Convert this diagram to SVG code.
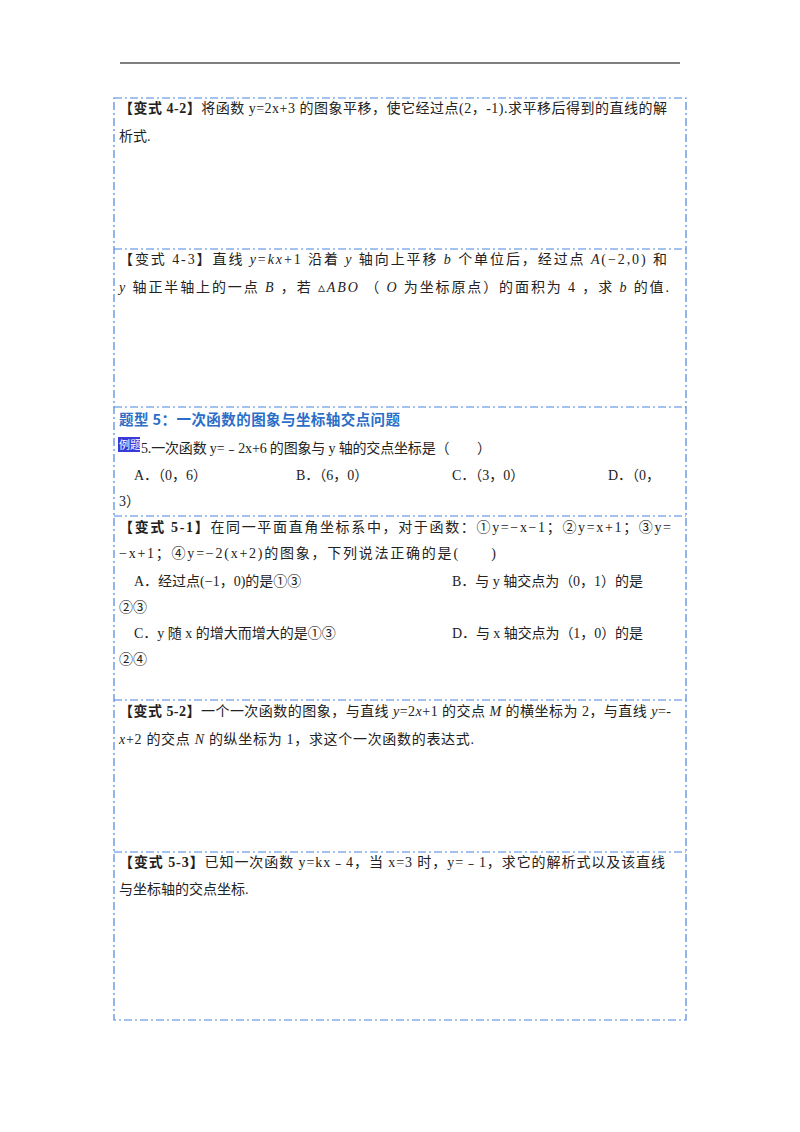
<svg xmlns="http://www.w3.org/2000/svg" width="800" height="1132" viewBox="0 0 800 1132">
<style>
.b{fill:none;stroke:#4a86e0;stroke-width:1.2;stroke-dasharray:8,3,2,3}
text{font-family:"Liberation Serif","Noto Sans CJK SC",serif;font-size:14px;fill:#222}
.h{font-weight:bold}
.i{font-style:italic}
.t{font-family:"Noto Sans CJK SC",sans-serif;font-weight:bold;fill:#2a6ec8;font-size:14.5px}
</style>
<rect width="800" height="1132" fill="#fff"/>
<line x1="120" y1="63" x2="680" y2="63" stroke="#000" stroke-width="1.2"/>
<g id="frame">
<rect class="b" x="114" y="98" width="572" height="922"/>
<line class="b" x1="114" y1="249" x2="686" y2="249"/>
<line class="b" x1="114" y1="407" x2="686" y2="407"/>
<line class="b" x1="114" y1="516" x2="686" y2="516"/>
<line class="b" x1="114" y1="700" x2="686" y2="700"/>
<line class="b" x1="114" y1="852" x2="686" y2="852"/>
</g>
<g id="q42">
<text x="119" y="113" textLength="548" lengthAdjust="spacing"><tspan class="h">【变式 4-2】</tspan>将函数 y=2x+3 的图象平移，使它经过点(2，-1).求平移后得到的直线的解</text>
<text x="119" y="141">析式.</text>
</g>
<g id="q43">
<text x="119" y="264" textLength="548" lengthAdjust="spacing">【变式 4-3】直线  <tspan class="i">y</tspan>=<tspan class="i">kx</tspan>+1  沿着  <tspan class="i">y</tspan>  轴向上平移  <tspan class="i">b</tspan>  个单位后，经过点  <tspan class="i">A</tspan>(−2,0)  和</text>
<text x="119" y="292" textLength="550" lengthAdjust="spacing"><tspan class="i">y</tspan>  轴正半轴上的一点  <tspan class="i">B</tspan> ，若  ▵<tspan class="i">ABO</tspan>  （ <tspan class="i">O</tspan>  为坐标原点）的面积为  4 ，求  <tspan class="i">b</tspan>  的值.</text>
</g>
<g id="q5">
<text class="t" x="119" y="425" textLength="281" lengthAdjust="spacing">题型 5：一次函数的图象与坐标轴交点问题</text>
<rect x="118" y="437" width="22" height="15" fill="#3a3ad8"/>
<text x="119" y="449" style="font-size:11px;fill:#fff;font-family:'Noto Sans CJK SC',sans-serif">例题</text>
<text x="141" y="453" textLength="350" lengthAdjust="spacing">5.一次函数 y=﹣2x+6 的图象与 y 轴的交点坐标是（　　）</text>
<text x="134" y="480">A．（0，6）</text>
<text x="296" y="480">B．（6，0）</text>
<text x="452" y="480">C．（3，0）</text>
<text x="608" y="480">D．（0，</text>
<text x="119" y="506">3）</text>
</g>
<g id="q51">
<text x="119" y="532" textLength="552" lengthAdjust="spacing"><tspan class="h">【变式 5-1】</tspan>在同一平面直角坐标系中，对于函数：①y=−x−1；②y=x+1；③y=</text>
<text x="119" y="558" textLength="377" lengthAdjust="spacing">−x+1；④y=−2(x+2)的图象，下列说法正确的是(　　)</text>
<text x="134" y="586">A．经过点(−1，0)的是①③</text>
<text x="452" y="586" textLength="191" lengthAdjust="spacing">B．与 y 轴交点为（0，1）的是</text>
<text x="119" y="612">②③</text>
<text x="134" y="638">C．y 随 x 的增大而增大的是①③</text>
<text x="452" y="638" textLength="191" lengthAdjust="spacing">D．与 x 轴交点为（1，0）的是</text>
<text x="119" y="664">②④</text>
</g>
<g id="q52">
<text x="119" y="716" textLength="552" lengthAdjust="spacing"><tspan class="h">【变式 5-2】</tspan>一个一次函数的图象，与直线 <tspan class="i">y</tspan>=2<tspan class="i">x</tspan>+1 的交点 <tspan class="i">M</tspan> 的横坐标为 2，与直线 <tspan class="i">y</tspan>=-</text>
<text x="119" y="744" textLength="355" lengthAdjust="spacing"><tspan class="i">x</tspan>+2 的交点 <tspan class="i">N</tspan> 的纵坐标为 1，求这个一次函数的表达式.</text>
</g>
<g id="q53">
<text x="119" y="867" textLength="546" lengthAdjust="spacing"><tspan class="h">【变式 5-3】</tspan>已知一次函数 y=kx﹣4，当 x=3 时，y=﹣1，求它的解析式以及该直线</text>
<text x="119" y="894">与坐标轴的交点坐标.</text>
</g>
</svg>
